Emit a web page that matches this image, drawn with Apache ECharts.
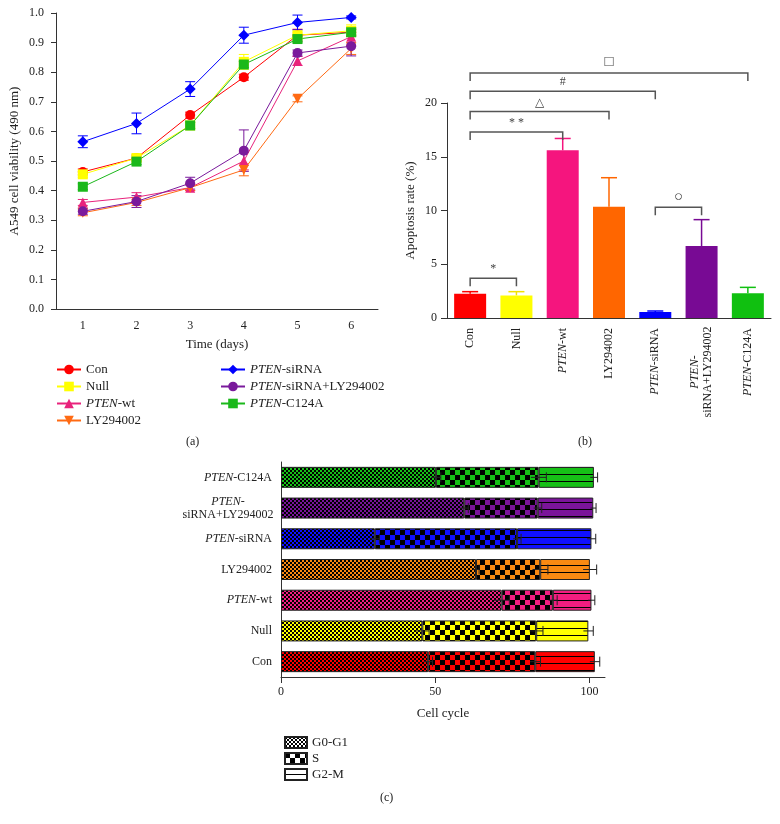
<!DOCTYPE html>
<html>
<head>
<meta charset="utf-8">
<script src="https://cdn.jsdelivr.net/npm/echarts@6/dist/echarts.min.js"></script>
<style>
  html, body { margin: 0; padding: 0; background: #fff; }
  #chart { width: 780px; height: 824px; }
</style>
</head>
<body>
<div id="chart"></div>
<script>
// ---- data ----
const days = ['1', '2', '3', '4', '5', '6'];
const groups = ['Con', 'Null', 'PTEN-wt', 'LY294002', 'PTEN-siRNA', 'PTEN-siRNA+LY294002', 'PTEN-C124A'];

// (a) A549 cell viability, one array per group
const viaCon   = [0.463, 0.510, 0.655, 0.783, 0.925, 0.935];
const viaNull  = [0.455, 0.510, 0.620, 0.835, 0.925, 0.940];
const viaWt    = [0.360, 0.378, 0.410, 0.500, 0.838, 0.920];
const viaLy    = [0.325, 0.360, 0.410, 0.470, 0.710, 0.880];
const viaSi    = [0.565, 0.627, 0.743, 0.925, 0.968, 0.985];
const viaSiLy  = [0.330, 0.363, 0.425, 0.535, 0.865, 0.888];
const viaC124  = [0.413, 0.498, 0.620, 0.826, 0.912, 0.935];
const errCon   = [0.010, 0.010, 0.010, 0.010, 0.020, 0.010];
const errNull  = [0.010, 0.010, 0.010, 0.025, 0.010, 0.020];
const errWt    = [0.010, 0.015, 0.010, 0.030, 0.015, 0.030];
const errLy    = [0.010, 0.010, 0.010, 0.020, 0.010, 0.020];
const errSi    = [0.020, 0.035, 0.025, 0.027, 0.025, 0.005];
const errSiLy  = [0.010, 0.020, 0.020, 0.070, 0.010, 0.033];
const errC124  = [0.010, 0.010, 0.010, 0.010, 0.010, 0.010];

// (b) apoptosis rate (%)
const apopRate = [2.25, 2.1, 15.6, 10.35, 0.55, 6.7, 2.3];
const apopErr  = [0.2, 0.35, 1.1, 2.7, 0.1, 2.45, 0.55];
// significance brackets
const brFrom  = [0, 0, 0, 0, 0, 4];
const brTo    = [1, 2, 3, 4, 6, 5];
const brLevel = [3.7, 17.3, 19.2, 21.1, 22.8, 10.3];
const brMark  = ['*', '* *', '△', '#', '□', '○'];

// (c) cell cycle (%)
const g0g1    = [47.7, 45.8, 71.5, 63.2, 30.4, 59.4, 50.2];
const sPhase  = [34.7, 36.9, 16.6, 20.8, 46.1, 23.8, 33.3];
const g2m     = [19.3, 16.9, 12.5, 16.1, 24.1, 18.0, 17.9];
const g0g1Err = [1.4, 2.2, 2.5, 1.0, 1.5, 1.3, 1.6];
const sErr    = [1.7, 2.2, 1.4, 2.5, 1.3, 1.3, 2.5];
const g2mErr  = [1.6, 1.6, 1.1, 2.2, 1.4, 0.9, 1.2];
const phases  = ['G0-G1', 'S', 'G2-M'];
const cycleTicks = [0, 50, 100];

// ---- styles ----
const FONT = "'Liberation Serif', 'DejaVu Serif', serif";
const lineColors = ['#ff0000', '#ffff00', '#e8237c', '#ff6a13', '#0000ff', '#7a1a9c', '#1bb81b'];
const barColorsB = ['#ff0000', '#ffff00', '#f5157e', '#ff6600', '#0000ff', '#780a94', '#10c010'];
const barColorsC = ['#ff0000', '#ffff00', '#f21d80', '#f98a12', '#1010ff', '#7a149a', '#16c016'];
const symbols = ['circle', 'rect', 'triangle', 'triangle', 'diamond', 'circle', 'rect'];
const symRot  = [0, 0, 0, 180, 0, 0, 0];
const viability = [viaCon, viaNull, viaWt, viaLy, viaSi, viaSiLy, viaC124];
const viaErrors = [errCon, errNull, errWt, errLy, errSi, errSiLy, errC124];

const richItalic = {
  i:  { fontStyle: 'italic', fontFamily: FONT, fontSize: 12, color: '#222' },
  ic: { fontStyle: 'italic', fontFamily: FONT, fontSize: 12, color: '#222', width: 88, align: 'center', lineHeight: 13 },
  c:  { fontFamily: FONT, fontSize: 12, color: '#222', width: 88, align: 'center', lineHeight: 13 }
};
function fmtGroup(v) {
  if (v === 'PTEN-siRNA+LY294002') return '{ic|PTEN-}\n{c|siRNA+LY294002}';
  if (v.indexOf('PTEN') === 0) return '{i|PTEN}' + v.slice(4);
  return v;
}
function fmtLegend(v) {
  return v.indexOf('PTEN') === 0 ? '{i|PTEN}' + v.slice(4) : v;
}

// fill patterns for panel (c)
function makePattern(color, kind) {
  const cv = document.createElement('canvas');
  const ctx = cv.getContext('2d');
  if (kind === 'fine') {
    cv.width = 4; cv.height = 4;
    ctx.fillStyle = color; ctx.fillRect(0, 0, 4, 4);
    ctx.fillStyle = '#000'; ctx.fillRect(0, 0, 2, 2); ctx.fillRect(2, 2, 2, 2);
  } else if (kind === 'coarse') {
    cv.width = 10; cv.height = 10;
    ctx.fillStyle = color; ctx.fillRect(0, 0, 10, 10);
    ctx.fillStyle = '#000'; ctx.fillRect(0, 0, 5, 5); ctx.fillRect(5, 5, 5, 5);
  } else {
    cv.width = 4; cv.height = 7;
    ctx.fillStyle = color; ctx.fillRect(0, 0, 4, 7);
    ctx.fillStyle = '#000'; ctx.fillRect(0, 5, 4, 1);
  }
  return { image: cv, repeat: 'repeat' };
}
const kinds = ['fine', 'coarse', 'stripe'];

const axisLineStyle = { color: '#333', width: 1 };
const labelStyle = { fontFamily: FONT, fontSize: 12, color: '#222' };
const nameStyle = { fontFamily: FONT, fontSize: 13, color: '#222' };

// ---- series ----
const series = [];

// (a) error bars
const errDataA = [];
viability.forEach((arr, g) => arr.forEach((v, i) => errDataA.push([i, v, viaErrors[g][i], g])));
series.push({
  type: 'custom', name: 'errA', xAxisIndex: 0, yAxisIndex: 0, z: 1,
  encode: { x: 0, y: 1 },
  data: errDataA,
  renderItem: function (params, api) {
    const i = api.value(0), v = api.value(1), e = api.value(2), g = api.value(3);
    const t = api.coord([i, v + e]), b = api.coord([i, v - e]);
    const st = { stroke: lineColors[g], lineWidth: 1 };
    return { type: 'group', children: [
      { type: 'line', shape: { x1: t[0], y1: t[1], x2: b[0], y2: b[1] }, style: st },
      { type: 'line', shape: { x1: t[0] - 5, y1: t[1], x2: t[0] + 5, y2: t[1] }, style: st },
      { type: 'line', shape: { x1: b[0] - 5, y1: b[1], x2: b[0] + 5, y2: b[1] }, style: st }
    ]};
  }
});
// (a) lines
groups.forEach((name, g) => {
  series.push({
    type: 'line', name: name, xAxisIndex: 0, yAxisIndex: 0, z: 2,
    data: viability[g],
    symbol: symbols[g], symbolRotate: symRot[g], symbolSize: g === 4 ? 11 : 10,
    lineStyle: { color: lineColors[g], width: 1 },
    itemStyle: { color: lineColors[g] }
  });
});

// (b) bars
series.push({
  type: 'bar', name: 'apoptosis', xAxisIndex: 1, yAxisIndex: 1, barWidth: 32,
  data: apopRate.map((v, i) => ({ value: v, itemStyle: { color: barColorsB[i] } }))
});
series.push({
  type: 'custom', name: 'errB', xAxisIndex: 1, yAxisIndex: 1, z: 1,
  encode: { x: 0, y: 1 },
  data: apopRate.map((v, i) => [i, v, apopErr[i]]),
  renderItem: function (params, api) {
    const i = api.value(0), v = api.value(1), e = api.value(2);
    const b = api.coord([i, v]), t = api.coord([i, v + e]);
    const st = { stroke: barColorsB[i] === '#ffff00' ? '#f2e200' : barColorsB[i], lineWidth: 1.5 };
    return { type: 'group', children: [
      { type: 'line', shape: { x1: b[0], y1: b[1], x2: t[0], y2: t[1] }, style: st },
      { type: 'line', shape: { x1: t[0] - 8, y1: t[1], x2: t[0] + 8, y2: t[1] }, style: st }
    ]};
  }
});
series.push({
  type: 'custom', name: 'brackets', xAxisIndex: 1, yAxisIndex: 1, clip: false, z: 5,
  encode: { x: 0, y: 1 },
  data: brFrom.map((f, k) => [f, brLevel[k], brTo[k], k]),
  renderItem: function (params, api) {
    const f = api.value(0), lv = api.value(1), to = api.value(2), k = api.value(3);
    const p1 = api.coord([f, lv]), p2 = api.coord([to, lv]);
    const st = { stroke: '#555', lineWidth: 1.5 };
    const big = brMark[k] === '○' || brMark[k] === '□';
    return { type: 'group', children: [
      { type: 'polyline', shape: { points: [[p1[0], p1[1] + 8], [p1[0], p1[1]], [p2[0], p2[1]], [p2[0], p2[1] + 8]] }, style: Object.assign({ fill: null }, st) },
      { type: 'text', x: (p1[0] + p2[0]) / 2, y: p1[1] - 3,
        style: { text: brMark[k], fontFamily: FONT, fontSize: big ? 15 : 12, fill: '#444', align: 'center', verticalAlign: 'bottom' } }
    ]};
  }
});

// (c) stacked bars
const phaseData = [g0g1, sPhase, g2m];
phases.forEach((name, p) => {
  series.push({
    type: 'bar', name: name, xAxisIndex: 2, yAxisIndex: 2, stack: 'cycle', barWidth: 21,
    itemStyle: { color: makePattern('#ffffff', kinds[p]), borderColor: '#222', borderWidth: 1 },
    data: phaseData[p].map((v, i) => ({ value: v, itemStyle: { color: makePattern(barColorsC[i], kinds[p]) } }))
  });
});
const errDataC = [];
groups.forEach((gname, i) => {
  const e1 = g0g1[i], e2 = e1 + sPhase[i], e3 = e2 + g2m[i];
  errDataC.push([e1, i, g0g1Err[i]], [e2, i, sErr[i]], [e3, i, g2mErr[i]]);
});
series.push({
  type: 'custom', name: 'errC', xAxisIndex: 2, yAxisIndex: 2, z: 5,
  encode: { x: 0, y: 1 },
  data: errDataC,
  renderItem: function (params, api) {
    const v = api.value(0), i = api.value(1), e = api.value(2);
    const a = api.coord([v - e, i]), b = api.coord([v + e, i]);
    const st = { stroke: '#222', lineWidth: 1 };
    return { type: 'group', children: [
      { type: 'line', shape: { x1: a[0], y1: a[1], x2: b[0], y2: b[1] }, style: st },
      { type: 'line', shape: { x1: b[0], y1: b[1] - 5, x2: b[0], y2: b[1] + 5 }, style: st }
    ]};
  }
});

const legendBase = {
  orient: 'vertical', selectedMode: false, itemWidth: 24, itemHeight: 12, itemGap: 4,
  textStyle: { fontFamily: FONT, fontSize: 13, color: '#222', rich: {
    i: { fontStyle: 'italic', fontFamily: FONT, fontSize: 13, color: '#222' } } },
  formatter: fmtLegend
};

const option = {
  animation: false,
  backgroundColor: '#fff',
  grid: [
    { left: 56, top: 13, width: 322, height: 296, outerBoundsMode: 'none' },
    { left: 447, top: 103, width: 324, height: 215, outerBoundsMode: 'none' },
    { left: 281, top: 462, width: 324, height: 215, outerBoundsMode: 'none' }
  ],
  xAxis: [
    { type: 'category', gridIndex: 0, data: days, boundaryGap: true,
      name: 'Time (days)', nameLocation: 'middle', nameGap: 29, nameTextStyle: nameStyle,
      axisLine: { lineStyle: axisLineStyle }, axisTick: { alignWithLabel: true, length: 5, lineStyle: axisLineStyle },
      axisLabel: Object.assign({ margin: 11 }, labelStyle), splitLine: { show: false } },
    { type: 'category', gridIndex: 1, data: groups, boundaryGap: true,
      axisLine: { lineStyle: axisLineStyle }, axisTick: { alignWithLabel: true, length: 6, lineStyle: axisLineStyle },
      axisLabel: Object.assign({ rotate: 90, margin: 10, formatter: fmtGroup, rich: richItalic, interval: 0 }, labelStyle) },
    { type: 'value', gridIndex: 2, min: 0, max: 105,
      name: 'Cell cycle', nameLocation: 'middle', nameGap: 30, nameTextStyle: nameStyle,
      axisLine: { show: true, lineStyle: axisLineStyle },
      axisTick: { show: true, length: 6, lineStyle: axisLineStyle, customValues: cycleTicks },
      axisLabel: Object.assign({ margin: 9, customValues: cycleTicks }, labelStyle),
      splitLine: { show: false } }
  ],
  yAxis: [
    { type: 'value', gridIndex: 0, min: 0, max: 1, interval: 0.1,
      name: 'A549 cell viability (490 nm)', nameLocation: 'middle', nameGap: 35, nameTextStyle: nameStyle,
      axisLine: { show: true, lineStyle: axisLineStyle }, axisTick: { show: true, length: 5, lineStyle: axisLineStyle },
      axisLabel: Object.assign({ margin: 12, formatter: v => v.toFixed(1) }, labelStyle), splitLine: { show: false } },
    { type: 'value', gridIndex: 1, min: 0, max: 20, interval: 5,
      name: 'Apoptosis rate (%)', nameLocation: 'middle', nameGap: 30, nameTextStyle: nameStyle,
      axisLine: { show: true, lineStyle: axisLineStyle }, axisTick: { show: true, length: 6, lineStyle: axisLineStyle },
      axisLabel: Object.assign({ margin: 10 }, labelStyle), splitLine: { show: false } },
    { type: 'category', gridIndex: 2, data: groups, boundaryGap: true,
      axisLine: { lineStyle: axisLineStyle }, axisTick: { alignWithLabel: true, length: 6, lineStyle: axisLineStyle },
      axisLabel: Object.assign({ margin: 9, formatter: fmtGroup, rich: richItalic, interval: 0 }, labelStyle) }
  ],
  legend: [
    Object.assign({}, legendBase, { data: groups.slice(0, 4), left: 51, top: 358 }),
    Object.assign({}, legendBase, { data: groups.slice(4), left: 215, top: 358 }),
    { data: phases, orient: 'vertical', selectedMode: false, left: 279, top: 731, icon: 'rect',
      itemWidth: 22, itemHeight: 11, itemGap: 3,
      textStyle: { fontFamily: FONT, fontSize: 13, color: '#222' } }
  ],
  graphic: [
    { type: 'text', left: 186, top: 436, style: { text: '(a)', fontFamily: FONT, fontSize: 12, fill: '#222' } },
    { type: 'text', left: 578, top: 436, style: { text: '(b)', fontFamily: FONT, fontSize: 12, fill: '#222' } },
    { type: 'text', left: 380, top: 792, style: { text: '(c)', fontFamily: FONT, fontSize: 12, fill: '#222' } }
  ],
  series: series
};

const myChart = echarts.init(document.getElementById('chart'));
myChart.setOption(option);
</script>
</body>
</html>
